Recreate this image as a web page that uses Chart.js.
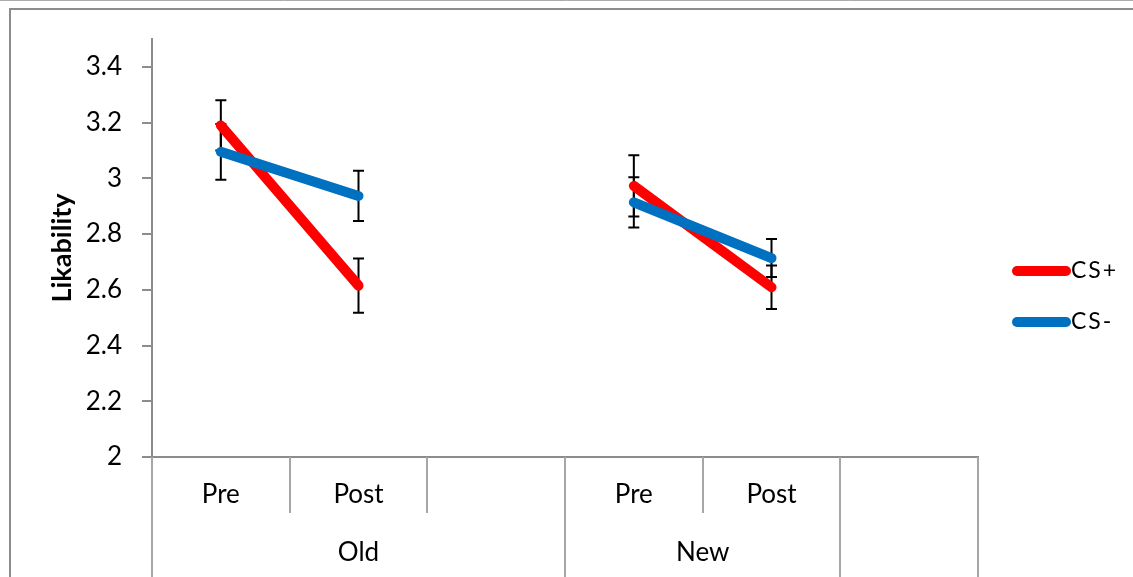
<!DOCTYPE html>
<html>
<head>
<meta charset="utf-8">
<script src="https://cdn.jsdelivr.net/npm/chart.js@4/dist/chart.umd.min.js"></script>
<style>
  html, body { margin: 0; padding: 0; background: #ffffff; }
  #wrap { position: relative; width: 1133px; height: 577px; }
</style>
</head>
<body>
<div id="wrap"><canvas id="chart" width="1133" height="577"></canvas></div>
<script>
// Categories along the x axis (blank slots separate the groups)
const categories = ['Pre', 'Post', '', 'Pre', 'Post', ''];
// Group labels under the categories and how many categories each spans
const groupLabels = ['Old', 'New', ''];
const groupSpans = [3, 2, 1];

// Mean likability ratings
const csPlus  = [3.19, 2.615, null, 2.973, 2.609, null];
const csMinus = [3.095, 2.937, null, 2.914, 2.714, null];

// Error bar half-widths
const csPlusErr  = [0.09, 0.097, null, 0.11, 0.078, null];
const csMinusErr = [0.10, 0.09, null, 0.09, 0.068, null];

// Y axis tick values
const yTicks = [2, 2.2, 2.4, 2.6, 2.8, 3, 3.2, 3.4];

const seriesLabels = ['CS+', 'CS-'];
const seriesColors = ['#ff0000', '#0070c0'];

const AXIS_GREY = '#8c8c8c';
const DIV_GREY = '#a6a6a6';

Chart.defaults.font.family = 'Lato, "Open Sans", sans-serif';
Chart.defaults.color = '#000000';

// Outer frame of the chart object
const framePlugin = {
  id: 'frame',
  beforeDraw(chart) {
    const ctx = chart.ctx;
    ctx.save();
    ctx.strokeStyle = '#ababab';
    ctx.lineWidth = 1;
    ctx.beginPath();
    ctx.moveTo(0, 0.5);
    ctx.lineTo(chart.width, 0.5);
    ctx.stroke();
    ctx.strokeStyle = AXIS_GREY;
    ctx.lineWidth = 2;
    ctx.beginPath();
    ctx.moveTo(10, chart.height);
    ctx.lineTo(10, 9);
    ctx.lineTo(chart.width, 9);
    ctx.stroke();
    ctx.restore();
  }
};

// Vertical error bars with caps, drawn beneath the lines
const errorBarPlugin = {
  id: 'errorBars',
  beforeDatasetsDraw(chart) {
    const ctx = chart.ctx;
    const x = chart.scales.x, y = chart.scales.y;
    const errs = [csPlusErr, csMinusErr];
    ctx.save();
    ctx.strokeStyle = '#000000';
    ctx.lineWidth = 2;
    chart.data.datasets.forEach((ds, di) => {
      ds.data.forEach((v, i) => {
        const e = errs[di][i];
        if (v == null || e == null) return;
        const px = x.getPixelForValue(i);
        const top = y.getPixelForValue(v + e);
        const bot = y.getPixelForValue(v - e);
        ctx.beginPath();
        ctx.moveTo(px, top); ctx.lineTo(px, bot);
        ctx.moveTo(px - 5.5, top); ctx.lineTo(px + 5.5, top);
        ctx.moveTo(px - 5.5, bot); ctx.lineTo(px + 5.5, bot);
        ctx.stroke();
      });
    });
    ctx.restore();
  }
};

// Category dividers and group labels below the x axis
const groupAxisPlugin = {
  id: 'groupAxis',
  afterDraw(chart) {
    const ctx = chart.ctx;
    const x = chart.scales.x;
    const area = chart.chartArea;
    const step = x.getPixelForValue(1) - x.getPixelForValue(0);
    const boundary = (i) => x.getPixelForValue(i) - step / 2;
    const groupEdges = new Set([0]);
    let acc = 0;
    groupSpans.forEach(s => { acc += s; groupEdges.add(acc); });
    ctx.save();
    ctx.strokeStyle = DIV_GREY;
    ctx.lineWidth = 2;
    for (let i = 0; i <= categories.length; i++) {
      const bx = Math.round(boundary(i));
      ctx.beginPath();
      ctx.moveTo(bx, area.bottom);
      ctx.lineTo(bx, groupEdges.has(i) ? chart.height : area.bottom + 56);
      ctx.stroke();
    }
    ctx.fillStyle = '#000000';
    ctx.font = '26px Lato, "Open Sans", sans-serif';
    ctx.textAlign = 'center';
    ctx.textBaseline = 'middle';
    let start = 0;
    groupSpans.forEach((s, gi) => {
      const cx = (boundary(start) + boundary(start + s)) / 2;
      if (groupLabels[gi]) ctx.fillText(groupLabels[gi], cx, area.bottom + 96);
      start += s;
    });
    ctx.restore();
  }
};

// Legend on the right with thick line samples
const legendPlugin = {
  id: 'sideLegend',
  afterDraw(chart) {
    const ctx = chart.ctx;
    const x0 = chart.chartArea.right + 39;
    ctx.save();
    ctx.font = '23px Lato, "Open Sans", sans-serif';
    ctx.letterSpacing = '2px';
    ctx.textBaseline = 'middle';
    ctx.textAlign = 'left';
    chart.data.datasets.forEach((ds, i) => {
      const yy = 271 + i * 51;
      ctx.strokeStyle = ds.borderColor;
      ctx.lineWidth = 10;
      ctx.lineCap = 'round';
      ctx.beginPath();
      ctx.moveTo(x0, yy);
      ctx.lineTo(x0 + 49, yy);
      ctx.stroke();
      ctx.fillStyle = '#000000';
      ctx.fillText(ds.label, x0 + 54, yy);
    });
    ctx.restore();
  }
};

const makeSeries = (label, data, color, order) => ({
  label, data, order,
  borderColor: color,
  backgroundColor: color,
  borderWidth: 10,
  borderCapStyle: 'round',
  borderJoinStyle: 'round',
  pointRadius: 0,
  pointHoverRadius: 0,
  spanGaps: false,
  fill: false,
  tension: 0
});

new Chart(document.getElementById('chart'), {
  type: 'line',
  data: {
    labels: categories,
    datasets: [
      makeSeries(seriesLabels[0], csPlus, seriesColors[0], 1),
      makeSeries(seriesLabels[1], csMinus, seriesColors[1], 0)
    ]
  },
  options: {
    responsive: false,
    animation: false,
    devicePixelRatio: 1,
    layout: { padding: { top: 39, right: 155, left: 0, bottom: 0 } },
    plugins: {
      legend: { display: false },
      tooltip: { enabled: false }
    },
    scales: {
      x: {
        type: 'category',
        offset: true,
        grid: { display: false, drawTicks: false, tickLength: 0 },
        border: { display: true, color: AXIS_GREY, width: 2 },
        ticks: {
          font: { size: 26 },
          color: '#000000',
          padding: 22,
          maxRotation: 0,
          autoSkip: false
        },
        afterFit(scale) { scale.height = 120; }
      },
      y: {
        min: 2,
        max: 3.5,
        afterBuildTicks(scale) { scale.ticks = yTicks.map(v => ({ value: v })); },
        grid: {
          drawOnChartArea: false,
          drawTicks: true,
          tickLength: 10,
          color: AXIS_GREY,
          lineWidth: 2
        },
        border: { display: true, color: AXIS_GREY, width: 2 },
        ticks: {
          font: { size: 26 },
          color: '#000000',
          padding: 20,
          callback: (v) => String(v)
        },
        title: {
          display: true,
          text: 'Likability',
          font: { size: 27, weight: 'bold' },
          color: '#000000',
          padding: { top: 46, bottom: 0 }
        },
        afterFit(scale) { scale.width = 152; }
      }
    }
  },
  plugins: [framePlugin, errorBarPlugin, groupAxisPlugin, legendPlugin]
});
</script>
</body>
</html>
